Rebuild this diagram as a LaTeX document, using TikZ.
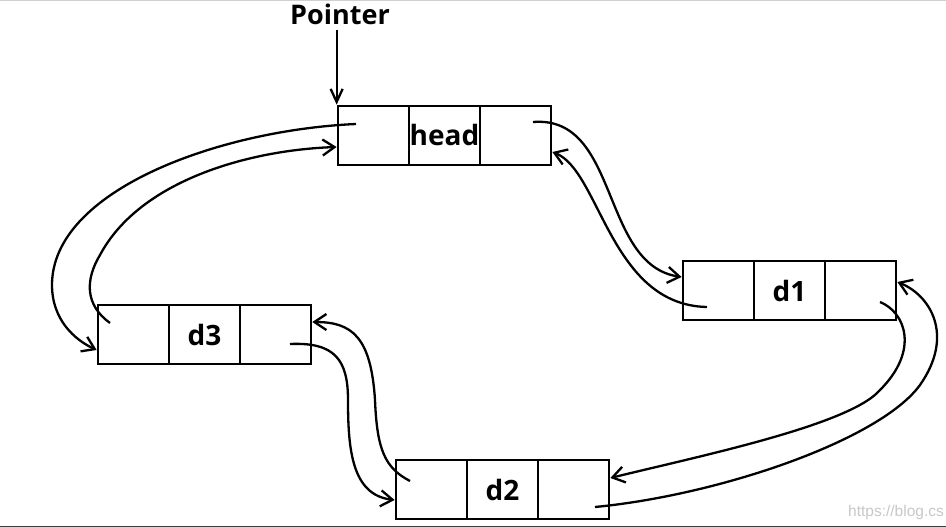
\documentclass[tikz,border=0pt]{standalone}
\usepackage{fontspec}
\setmainfont{Open Sans}
\setsansfont{Liberation Sans}
\usetikzlibrary{arrows.meta,calc}
\begin{document}
\begin{tikzpicture}[x=1pt,y=-1pt,
  cell/.style={draw, line width=2.7pt, minimum width=71pt, minimum height=59pt, inner sep=0pt,
    font=\bfseries\fontsize{28}{28}\selectfont},
  link/.style={line width=2.3pt, -{Straight Barb[length=12pt,width=16pt,line width=2.3pt]}},
  ptrlink/.style={line width=2.3pt, -{Straight Barb[length=13pt,width=12pt,line width=2.3pt]}},
  lbl/.style={font=\bfseries\fontsize{27}{27}\selectfont, inner sep=0pt}]
\useasboundingbox (0,0) rectangle (946,527);
\fill[white] (0,0) rectangle (946,527);
\draw[line width=1pt, color={rgb,255:red,208;green,208;blue,208}] (0,0.5) -- (946,0.5);
\draw[line width=1.2pt, color={rgb,255:red,60;green,60;blue,60}] (0,526.4) -- (946,526.4);

% boxes
\node[cell] (head1) at (373.5,135.5) {};
\node[cell] (head2) at (444.5,135.5) {head};
\node[cell] (head3) at (515.5,135.5) {};
\node[cell] (d1a) at (718.5,290.5) {};
\node[cell] (d1b) at (789.5,290.5) {d1};
\node[cell] (d1c) at (860.5,290.5) {};
\node[cell] (d3a) at (133.5,334.5) {};
\node[cell] (d3b) at (204.5,334.5) {d3};
\node[cell] (d3c) at (275.5,334.5) {};
\node[cell] (d2a) at (431.5,489.5) {};
\node[cell] (d2b) at (502.5,489.5) {d2};
\node[cell] (d2c) at (573.5,489.5) {};

% pointer
\node[lbl, anchor=base] (ptr) at (340,25) {Pointer};
\draw[ptrlink] (head1.north west |- 0,30) coordinate (ps) -- (head1.north west);

% start points of links
\coordinate (sA) at ($(head3.center)+(17.5,-13.5)$);
\coordinate (sB) at ($(d1a.center)+(-11.5,16.5)$);
\coordinate (sC) at ($(d1c.center)+(19.5,11.5)$);
\coordinate (sD) at ($(d2c.center)+(21.5,17.5)$);
\coordinate (sE) at ($(d3c.center)+(14.5,9.5)$);
\coordinate (sF) at ($(d2a.center)+(-21.5,-8.5)$);
\coordinate (sG) at ($(head1.center)+(-17.5,-11.5)$);
\coordinate (sH) at ($(d3a.center)+(-23.5,-11.5)$);

% head <-> d1
\draw[link] (sA) .. controls (620,115) and (600,265) .. ($(d1a.west)+(0,-13.5)$);
\draw[link] (sB) .. controls (610,305) and (600,170) .. ($(head3.east)+(0,16.5)$);
% d1 <-> d2
\draw[link] (sC) .. controls (905,312) and (920,350) .. (880,390)
  .. controls (850,425) and (700,456) .. ($(d2c.east)+(0,-11.5)$);
\draw[link] (sD) .. controls (720,495) and (880,440) .. (920,385)
  .. controls (955,335) and (930,295) .. ($(d1c.east)+(0,-8.5)$);
% d2 <-> d3
\draw[link] (sE) .. controls (335,342) and (348,360) .. (348,400)
  .. controls (348,450) and (352,495) .. ($(d2a.west)+(0,10.5)$);
\draw[link] (sF) .. controls (385,468) and (377,450) .. (375,400)
  .. controls (371,337) and (352,322) .. ($(d3c.east)+(0,-12.5)$);
% d3 <-> head
\draw[link] (sG) .. controls (220,130) and (52,190) .. (52,285)
  .. controls (52,320) and (75,340) .. ($(d3a.west)+(0,15.5)$);
\draw[link] (sH) .. controls (85,305) and (85,280) .. (100,255)
  .. controls (140,180) and (250,150) .. ($(head1.west)+(0,11.5)$);

% watermark
\node[anchor=base west, inner sep=0pt, text={rgb,255:red,200;green,200;blue,200},
  font=\sffamily\fontsize{15.5}{15.5}\selectfont] (wm) at (848,516) {https://blog.cs};
\end{tikzpicture}
\end{document}
